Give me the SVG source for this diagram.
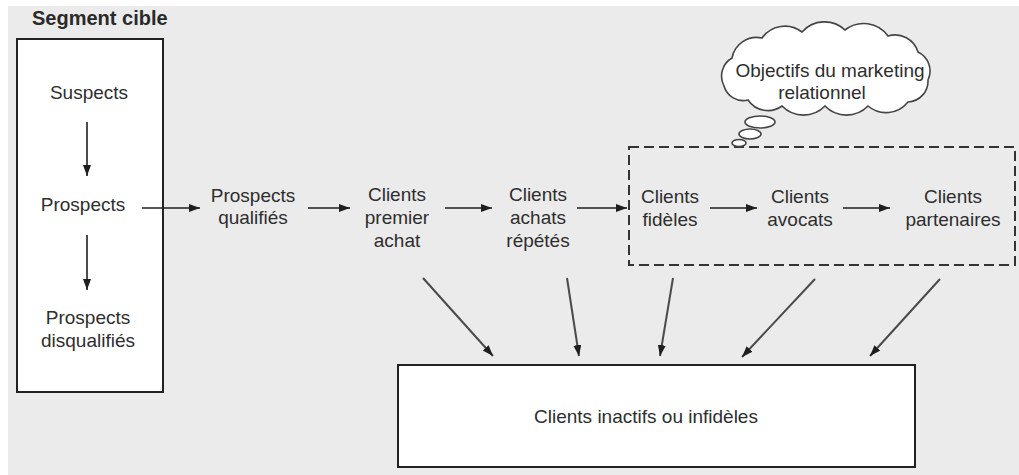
<svg xmlns="http://www.w3.org/2000/svg" width="1019" height="475" viewBox="0 0 1019 475">
  <style>
    .lbl { font-family: "Liberation Sans", Arial, sans-serif; font-size: 19px; fill: #2e2e2e; text-anchor: middle; }
    .title { font-family: "Liberation Sans", Arial, sans-serif; font-size: 20px; font-weight: bold; fill: #2a2a2a; }
    .box { fill: #ffffff; stroke: #222; stroke-width: 2; }
    .dash { fill: none; stroke: #333; stroke-width: 2; stroke-dasharray: 10 5; }
    .cloud { fill: #ffffff; stroke: #444; stroke-width: 1.6; }
    .flow { stroke: #1e1e1e; stroke-width: 1.6; fill: none; marker-end: url(#head); }
    .drop { stroke: #4a4a4a; stroke-width: 2; fill: none; marker-end: url(#head); }
  </style>
  <defs>
    <marker id="head" markerUnits="userSpaceOnUse" markerWidth="12" markerHeight="10" refX="11" refY="4" orient="auto">
      <path d="M0,0 L11,4 L0,8 z" fill="#1e1e1e"/>
    </marker>
  </defs>

  <!-- page background -->
  <rect x="0" y="0" width="1019" height="475" fill="#ffffff"/>
  <rect x="8" y="6" width="1011" height="469" fill="#ebebeb"/>

  <!-- target segment -->
  <g id="segment-cible">
    <text class="title" x="32" y="25">Segment cible</text>
    <rect class="box" x="17" y="39" width="146" height="353"/>
  </g>
  <g id="suspects"><text class="lbl" x="89" y="99">Suspects</text></g>
  <g id="prospects"><text class="lbl" x="83" y="211">Prospects</text></g>
  <g id="prospects-disqualifies">
    <text class="lbl" x="88" y="324">Prospects</text>
    <text class="lbl" x="88" y="347">disqualifiés</text>
  </g>

  <g id="prospects-qualifies">
    <text class="lbl" x="253" y="202">Prospects</text>
    <text class="lbl" x="253" y="224">qualifiés</text>
  </g>
  <g id="clients-premier-achat">
    <text class="lbl" x="397" y="201">Clients</text>
    <text class="lbl" x="397" y="224">premier</text>
    <text class="lbl" x="397" y="247">achat</text>
  </g>
  <g id="clients-achats-repetes">
    <text class="lbl" x="538" y="201">Clients</text>
    <text class="lbl" x="538" y="224">achats</text>
    <text class="lbl" x="538" y="247">répétés</text>
  </g>

  <!-- relationship marketing scope -->
  <g id="zone-relationnel">
    <rect class="dash" x="629" y="147" width="386" height="118"/>
  </g>
  <g id="clients-fideles">
    <text class="lbl" x="670" y="203">Clients</text>
    <text class="lbl" x="670" y="226">fidèles</text>
  </g>
  <g id="clients-avocats">
    <text class="lbl" x="800" y="203">Clients</text>
    <text class="lbl" x="800" y="226">avocats</text>
  </g>
  <g id="clients-partenaires">
    <text class="lbl" x="953" y="203">Clients</text>
    <text class="lbl" x="953" y="226">partenaires</text>
  </g>

  <!-- thought bubble -->
  <g id="objectifs">
    <path class="cloud" d="M724,86 A21,21 0 0 1 732,58 A25,25 0 0 1 762,38 A28,28 0 0 1 802,32 A30,30 0 0 1 845,30 A30,30 0 0 1 888,36 A24,24 0 0 1 918,52 A21,21 0 0 1 928,80 A21,21 0 0 1 908,102 A28,28 0 0 1 868,106 A30,30 0 0 1 825,106 A30,30 0 0 1 782,106 A24,24 0 0 1 748,100 A20,20 0 0 1 724,86 Z"/>
    <ellipse class="cloud" cx="760" cy="122" rx="15" ry="6"/>
    <ellipse class="cloud" cx="750" cy="134" rx="11" ry="5"/>
    <ellipse class="cloud" cx="739" cy="143" rx="7" ry="3.5"/>
    <text class="lbl" x="830" y="77">Objectifs du marketing</text>
    <text class="lbl" x="822" y="99">relationnel</text>
  </g>

  <g id="clients-inactifs">
    <rect class="box" x="398" y="365" width="517" height="102"/>
    <text class="lbl" x="646" y="423">Clients inactifs ou infidèles</text>
  </g>

  <g id="connectors">
    <line class="flow" x1="87" y1="122" x2="87" y2="176"/>
    <line class="flow" x1="87" y1="235" x2="87" y2="290"/>
    <line class="flow" x1="142" y1="208" x2="200" y2="208"/>
    <line class="flow" x1="308" y1="208" x2="350" y2="208"/>
    <line class="flow" x1="445" y1="208" x2="492" y2="208"/>
    <line class="flow" x1="577" y1="208" x2="627" y2="208"/>
    <line class="flow" x1="710" y1="208" x2="757" y2="208"/>
    <line class="flow" x1="843" y1="208" x2="890" y2="208"/>
    <line class="drop" x1="423" y1="278" x2="493" y2="356"/>
    <line class="drop" x1="567" y1="278" x2="579" y2="356"/>
    <line class="drop" x1="673" y1="278" x2="660" y2="356"/>
    <line class="drop" x1="815" y1="279" x2="742" y2="357"/>
    <line class="drop" x1="940" y1="279" x2="870" y2="356"/>
  </g>
</svg>
